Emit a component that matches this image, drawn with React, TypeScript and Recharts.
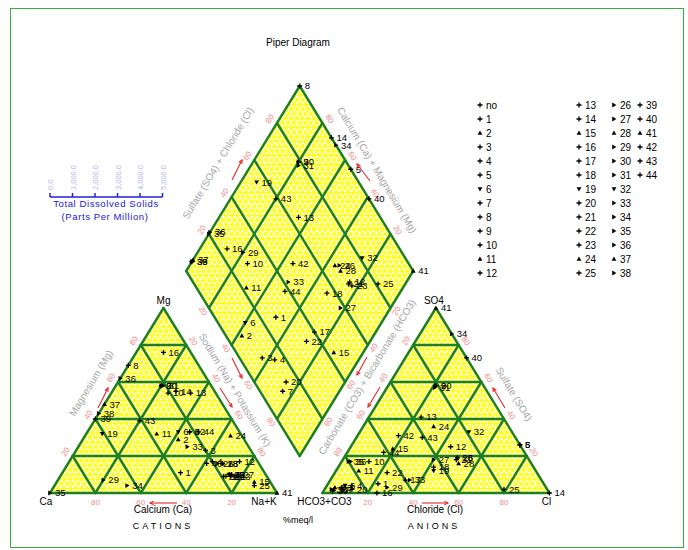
import React from 'react';
import { ScatterChart, Scatter, XAxis, YAxis, ReferenceLine, ReferenceDot } from 'recharts';

// sample numbers and their ion shares (% meq/l)
const sampleIds = ['1', '2', '3', '4', '5', '6', '7', '8', '9', '10', '11', '12', '13', '14', '15',
  '16', '17', '18', '19', '20', '21', '22', '23', '24', '25', '26', '27', '28', '29', '30',
  '31', '32', '33', '34', '35', '36', '37', '38', '39', '40', '41', '42', '43', '44'];
const magnesium = [11, 29, 23, 17, 33, 33, 10, 69, 58, 54, 32, 17, 54, 55, 6,
  76, 9, 16, 32, 10, 9, 9, 9, 31, 4, 16, 10, 16, 7, 58,
  58, 10, 25, 4, 0, 62, 48, 43, 40, 16, 0, 33, 39, 33];
const sodiumPotassium = [52, 42, 57, 63, 45, 40, 75, 0, 20, 25, 31, 75, 35, 28, 87,
  12, 73, 68, 7, 74, 75, 72, 77, 64, 88, 66, 78, 68, 20, 20,
  21, 74, 48, 32, 0, 0, 0, 0, 0, 61, 100, 45, 20, 49];
const sulfate = [5, 3, 3, 4, 26, 4, 2, 26, 58, 17, 12, 25, 41, 0, 24,
  0, 7, 14, 12, 2, 18, 11, 19, 36, 2, 19, 18, 16, 3, 58,
  57, 33, 7, 86, 17, 17, 2, 2, 1, 73, 100, 31, 30, 22];
const chloride = [22, 4, 7, 11, 74, 8, 8, 74, 21, 12, 10, 44, 23, 100, 19,
  24, 33, 42, 43, 12, 50, 23, 50, 31, 79, 50, 40, 52, 27, 21,
  21, 48, 35, 14, 3, 4, 4, 3, 4, 27, 0, 18, 29, 16];

const legendNames = ['no', ...sampleIds];
const percentTicks = [20, 40, 60, 80];
const tdsTicks = ['0.0', '1,000.0', '2,000.0', '3,000.0', '4,000.0', '5,000.0'];

const FONT = 'Liberation Sans, Arial, Helvetica, sans-serif';
const H = 86.6025;
const GAP = 20;
const AN_X0 = 100 + GAP;
const DIA_B = { x: 110, y: GAP * 0.866025 };
const DIA_L = { x: 60, y: DIA_B.y + H };
const DIA_T = { x: 110, y: DIA_B.y + 2 * H };

const cationXY = (mg: number, nak: number) => ({ x: nak + mg / 2, y: (H * mg) / 100 });
const anionXY = (so4: number, cl: number) => ({ x: AN_X0 + cl + so4 / 2, y: (H * so4) / 100 });
const diamondXY = (nak: number, so4cl: number) => {
  const c = nak / 100;
  const a = so4cl / 100;
  return { x: DIA_L.x + 50 * c + 50 * a, y: DIA_L.y - H * c + H * a };
};

const samples = sampleIds.map((id, i) => ({
  id,
  mg: magnesium[i],
  nak: sodiumPotassium[i],
  so4: sulfate[i],
  cl: chloride[i],
}));
const cationData = samples.map((s) => ({ id: s.id, ...cationXY(s.mg, s.nak) }));
const anionData = samples.map((s) => ({ id: s.id, ...anionXY(s.so4, s.cl) }));
const diamondData = samples.map((s) => ({ id: s.id, ...diamondXY(s.nak, s.so4 + s.cl) }));

type Seg = [number, number, number, number];

function triangleLines(x0: number, n: number, withEdges: boolean): Seg[] {
  const segs: Seg[] = [];
  for (let k = 1; k < n; k++) {
    const t = k / n;
    segs.push([x0 + 50 * t, H * t, x0 + 100 - 50 * t, H * t]);
    segs.push([x0 + 100 * t, 0, x0 + 50 + 50 * t, H * (1 - t)]);
    segs.push([x0 + 100 * (1 - t), 0, x0 + 50 * (1 - t), H * (1 - t)]);
  }
  if (withEdges) {
    segs.push([x0, 0, x0 + 100, 0]);
    segs.push([x0, 0, x0 + 50, H]);
    segs.push([x0 + 100, 0, x0 + 50, H]);
  }
  return segs;
}

function diamondLines(n: number, withEdges: boolean, horizontals: boolean): Seg[] {
  const segs: Seg[] = [];
  const from = withEdges ? 0 : 1;
  const to = withEdges ? n : n - 1;
  for (let k = from; k <= to; k++) {
    const t = k / n;
    segs.push([60 + 50 * t, DIA_L.y - H * t, 110 + 50 * t, DIA_L.y - H * t + H]);
    segs.push([60 + 50 * t, DIA_L.y + H * t, 110 + 50 * t, DIA_L.y + H * t - H]);
  }
  if (horizontals) {
    for (let j = 1; j < 2 * n; j++) {
      const half = (50 * Math.min(j, 2 * n - j)) / n;
      const y = DIA_B.y + (H * j) / n;
      segs.push([110 - half, y, 110 + half, y]);
    }
  }
  return segs;
}

const yellowSegs = [
  ...triangleLines(0, 40, false),
  ...triangleLines(AN_X0, 40, false),
  ...diamondLines(40, false, true),
];
const greenSegs = [
  ...triangleLines(0, 5, true),
  ...triangleLines(AN_X0, 5, true),
  ...diamondLines(5, true, false),
];

const upIds = ['2', '11', '15', '24', '28', '37', '41'];
const downIds = ['6', '19', '32'];
const rightIds = ['26', '27', '29', '30', '31', '33', '34', '35', '36', '38'];

function Marker({ id, cx, cy }: { id: string; cx: number; cy: number }) {
  if (upIds.includes(id)) {
    return <path d={`M${cx},${cy - 2.4}L${cx + 2.4},${cy + 1.8}L${cx - 2.4},${cy + 1.8}Z`} fill="#000" />;
  }
  if (downIds.includes(id)) {
    return <path d={`M${cx},${cy + 2.4}L${cx + 2.4},${cy - 1.8}L${cx - 2.4},${cy - 1.8}Z`} fill="#000" />;
  }
  if (rightIds.includes(id)) {
    return <path d={`M${cx + 2.4},${cy}L${cx - 1.8},${cy - 2.4}L${cx - 1.8},${cy + 2.4}Z`} fill="#000" />;
  }
  return (
    <path d={`M${cx - 2.5},${cy}h5M${cx},${cy - 2.5}v5`} stroke="#000" strokeWidth={1.3} />
  );
}

const renderPoint = (props: any) => {
  const { cx, cy, payload } = props;
  if (cx == null || cy == null) return <g />;
  return (
    <g>
      <Marker id={payload.id} cx={cx} cy={cy} />
      <text x={cx + 5} y={cy + 3.3} fontSize={9.5} fontFamily={FONT} fill="#000">
        {payload.id}
      </text>
    </g>
  );
};

type TextSpec = {
  key: string;
  pos: { x: number; y: number };
  dx: number;
  dy: number;
  rot: number;
  text: string;
  size: number;
  color: string;
};

const tickSpecs: TextSpec[] = [];
percentTicks.forEach((v) => {
  const f = v / 100;
  const base = { size: 8, color: '#f08c8c', text: String(v) };
  tickSpecs.push({ ...base, key: 'cb' + v, pos: { x: 100 - v, y: 0 }, dx: 0, dy: 9, rot: 0 });
  tickSpecs.push({ ...base, key: 'cl' + v, pos: { x: v / 2, y: H * f }, dx: -7, dy: -4, rot: -59 });
  tickSpecs.push({ ...base, key: 'cr' + v, pos: { x: 50 + v / 2, y: H * (1 - f) }, dx: 7, dy: -4, rot: 59 });
  tickSpecs.push({ ...base, key: 'ab' + v, pos: { x: AN_X0 + v, y: 0 }, dx: 0, dy: 9, rot: 0 });
  tickSpecs.push({ ...base, key: 'al' + v, pos: { x: AN_X0 + 50 - v / 2, y: H * (1 - f) }, dx: -7, dy: -4, rot: -59 });
  tickSpecs.push({ ...base, key: 'ar' + v, pos: { x: AN_X0 + 100 - v / 2, y: H * f }, dx: 7, dy: -4, rot: 59 });
  tickSpecs.push({ ...base, key: 'dul' + v, pos: { x: 60 + 50 * f, y: DIA_L.y + H * f }, dx: -7, dy: -4, rot: -59 });
  const c = 1 - f;
  tickSpecs.push({ ...base, key: 'dur' + v, pos: { x: 110 + 50 * c, y: DIA_T.y - H * c }, dx: 7, dy: -4, rot: 59 });
  tickSpecs.push({ ...base, key: 'dll' + v, pos: { x: 60 + 50 * f, y: DIA_L.y - H * f }, dx: -6, dy: 3, rot: 59 });
  const a = 1 - f;
  tickSpecs.push({ ...base, key: 'dlr' + v, pos: { x: 110 + 50 * a, y: DIA_B.y + H * a }, dx: 6, dy: 3, rot: -59 });
});

const vertexSpecs: TextSpec[] = [
  { key: 'mg', pos: { x: 50, y: H }, dx: 0, dy: -8, rot: 0, text: 'Mg', size: 10, color: '#000' },
  { key: 'ca', pos: { x: 0, y: 0 }, dx: -4, dy: 8, rot: 0, text: 'Ca', size: 10, color: '#000' },
  { key: 'nak', pos: { x: 100, y: 0 }, dx: -13, dy: 8, rot: 0, text: 'Na+K', size: 10, color: '#000' },
  { key: 'so4', pos: { x: AN_X0 + 50, y: H }, dx: -2, dy: -8, rot: 0, text: 'SO4', size: 10, color: '#000' },
  { key: 'hco3', pos: { x: AN_X0, y: 0 }, dx: 2, dy: 8, rot: 0, text: 'HCO3+CO3', size: 10, color: '#000' },
  { key: 'cl', pos: { x: AN_X0 + 100, y: 0 }, dx: -3, dy: 8, rot: 0, text: 'Cl', size: 10, color: '#000' },
];

const renderTextDot = (s: TextSpec) => (
  <ReferenceDot
    key={s.key}
    x={s.pos.x}
    y={s.pos.y}
    r={0}
    ifOverflow="visible"
    shape={(p: any) => {
      const x = p.cx + s.dx;
      const y = p.cy + s.dy;
      return (
        <text
          x={x}
          y={y}
          transform={s.rot ? `rotate(${s.rot} ${x} ${y})` : undefined}
          textAnchor="middle"
          dominantBaseline="central"
          fontSize={s.size}
          fontFamily={FONT}
          fill={s.color}
        >
          {s.text}
        </text>
      );
    }}
  />
);

// edge titles and red arrows, in page pixels
const edgeTitles = [
  { text: 'Magnesium (Mg)', x: 91, y: 383, rot: -59 },
  { text: 'Sulfate (SO4) + Chloride (Cl)', x: 218, y: 163, rot: -59 },
  { text: 'Calcium (Ca) + Magnesium (Mg)', x: 377, y: 170, rot: 59 },
  { text: 'Sodium (Na) + Potassium (K)', x: 235, y: 390, rot: 59 },
  { text: 'Carbonate (CO3) + Bicarbonate (HCO3)', x: 367, y: 377, rot: -59 },
  { text: 'Sulfate (SO4)', x: 514, y: 394, rot: 59 },
];
const arrows = [
  [98, 408, 108, 388],
  [220, 388, 232, 407],
  [177, 503, 150, 503],
  [232, 358, 242, 378],
  [232, 180, 242, 160],
  [370, 181, 357, 164],
  [367, 357, 357, 375],
  [380, 387, 368, 407],
  [505, 408, 493, 388],
  [422, 503, 448, 503],
];

const legendCols = [
  { items: legendNames.slice(0, 13), mx: 480, tx: 486 },
  { items: legendNames.slice(13, 26), mx: 579, tx: 585 },
  { items: legendNames.slice(26, 39), mx: 614, tx: 620 },
  { items: legendNames.slice(39), mx: 640, tx: 646 },
];

function Overlay() {
  const tdsX0 = 50;
  const tdsStep = 22.5;
  return (
    <svg width={688} height={550} style={{ position: 'absolute', left: 0, top: 0, pointerEvents: 'none' }}>
      <text x={298} y={46} textAnchor="middle" fontSize={10} fontFamily={FONT} fill="#000">
        Piper Diagram
      </text>

      {/* TDS scale */}
      <line x1={tdsX0} y1={197} x2={tdsX0 + tdsStep * 5} y2={197} stroke="#2020d8" strokeWidth={1.5} />
      {tdsTicks.map((t, i) => {
        const x = tdsX0 + tdsStep * i;
        return (
          <g key={t}>
            <line x1={x} y1={197} x2={x} y2={193} stroke="#2020d8" strokeWidth={1.5} />
            <text
              x={x + 3}
              y={190}
              transform={`rotate(-90 ${x + 3} 190)`}
              fontSize={7.5}
              fontFamily={FONT}
              fill="#b4b4f0"
            >
              {t}
            </text>
          </g>
        );
      })}
      <text x={106} y={207} textAnchor="middle" fontSize={9.5} fontFamily={FONT} fill="#2020d8" letterSpacing={0.6}>
        Total Dissolved Solids
      </text>
      <text x={105} y={220} textAnchor="middle" fontSize={9.5} fontFamily={FONT} fill="#2020d8" letterSpacing={0.6}>
        (Parts Per Million)
      </text>

      {edgeTitles.map((e) => (
        <text
          key={e.text}
          x={e.x}
          y={e.y}
          transform={`rotate(${e.rot} ${e.x} ${e.y})`}
          textAnchor="middle"
          dominantBaseline="central"
          fontSize={10}
          fontFamily={FONT}
          fill="#a6a6a6"
        >
          {e.text}
        </text>
      ))}

      {arrows.map(([x1, y1, x2, y2], i) => {
        const ang = Math.atan2(y2 - y1, x2 - x1);
        const hx1 = x2 - 4 * Math.cos(ang - 0.45);
        const hy1 = y2 - 4 * Math.sin(ang - 0.45);
        const hx2 = x2 - 4 * Math.cos(ang + 0.45);
        const hy2 = y2 - 4 * Math.sin(ang + 0.45);
        return (
          <g key={i} stroke="#e82828" strokeWidth={1.1} fill="none">
            <line x1={x1} y1={y1} x2={x2} y2={y2} />
            <path d={`M${hx1},${hy1}L${x2},${y2}L${hx2},${hy2}`} />
          </g>
        );
      })}

      <text x={163} y={513} textAnchor="middle" fontSize={10} fontFamily={FONT} fill="#000">Calcium (Ca)</text>
      <text x={163} y={529} textAnchor="middle" fontSize={9} fontFamily={FONT} fill="#000" letterSpacing={3}>CATIONS</text>
      <text x={435} y={513} textAnchor="middle" fontSize={10} fontFamily={FONT} fill="#000">Chloride (Cl)</text>
      <text x={434} y={529} textAnchor="middle" fontSize={9} fontFamily={FONT} fill="#000" letterSpacing={3}>ANIONS</text>
      <text x={298} y={523} textAnchor="middle" fontSize={9} fontFamily={FONT} fill="#000">%meq/l</text>

      {legendCols.map((col) =>
        col.items.map((name, r) => {
          const y = 105 + r * 14;
          return (
            <g key={name}>
              <Marker id={name} cx={col.mx} cy={y} />
              <text x={col.tx} y={y + 3.5} fontSize={10} fontFamily={FONT} fill="#000">
                {name}
              </text>
            </g>
          );
        })
      )}
    </svg>
  );
}

export default function App() {
  return (
    <div style={{ position: 'absolute', left: 0, top: 0, width: 688, height: 550, background: '#fff' }}>
      <div
        style={{
          position: 'absolute',
          left: 10,
          top: 8,
          width: 672,
          height: 538,
          border: '1px solid #3aaa3a',
        }}
      />
      <div style={{ position: 'absolute', left: 0, top: 0 }}>
        <ScatterChart width={688} height={550} margin={{ top: 86, right: 138.6, bottom: 57, left: 50 }}>
          <XAxis type="number" dataKey="x" domain={[0, 220]} hide />
          <YAxis type="number" dataKey="y" domain={[0, DIA_T.y]} hide />
          {yellowSegs.map((s, i) => (
            <ReferenceLine
              key={'y' + i}
              segment={[{ x: s[0], y: s[1] }, { x: s[2], y: s[3] }]}
              stroke="#ffff00"
              strokeWidth={1.15}
              ifOverflow="visible"
            />
          ))}
          {greenSegs.map((s, i) => (
            <ReferenceLine
              key={'g' + i}
              segment={[{ x: s[0], y: s[1] }, { x: s[2], y: s[3] }]}
              stroke="#1f7f1f"
              strokeWidth={2.4}
              strokeLinecap="round"
              ifOverflow="visible"
            />
          ))}
          {tickSpecs.map(renderTextDot)}
          {vertexSpecs.map(renderTextDot)}
          <Scatter data={cationData} shape={renderPoint} isAnimationActive={false} />
          <Scatter data={anionData} shape={renderPoint} isAnimationActive={false} />
          <Scatter data={diamondData} shape={renderPoint} isAnimationActive={false} />
        </ScatterChart>
      </div>
      <Overlay />
    </div>
  );
}
